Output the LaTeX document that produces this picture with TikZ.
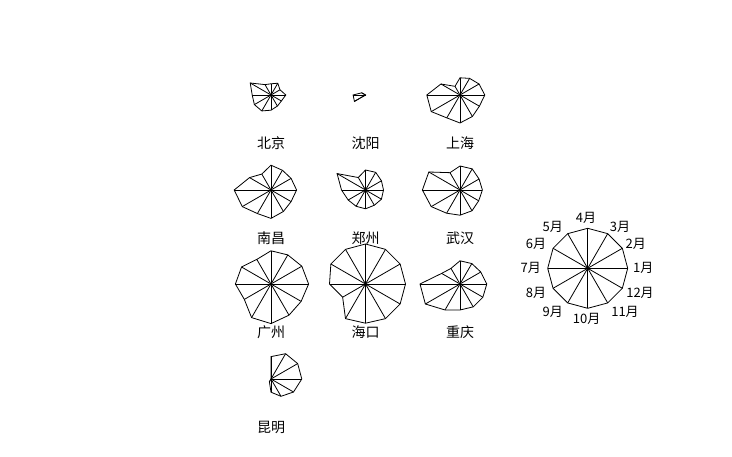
\documentclass[tikz,border=0pt]{standalone}
\usepackage{fontspec}
\newfontfamily\cjk{Noto Sans CJK SC}
\begin{document}
\begin{tikzpicture}[x=1pt,y=1pt,
    ray/.style={line width=0.8pt},
    citylabel/.style={font=\cjk\fontsize{14}{14}\selectfont},
    keylabel/.style={font=\cjk\fontsize{13}{13}\selectfont}]
  \useasboundingbox (0,0) rectangle (732,456);

  % Stars, one per city (12 months, 1 = full radius 40)
  \foreach \id/\cx/\cy/\nm/\vals in {
      bj/271/361/北京/{0.37,0.26,0.34,0.28,0.30,0.60,0.47,0.48,0.46,0.38,0.32,0.30},
      sy/365.5/361/沈阳/{0,0,0,0,0,0.11,0.31,0.32,0,0,0,0},
      sh/460/361/上海/{0.62,0.55,0.48,0.43,0.25,0.55,0.83,0.83,0.66,0.70,0.62,0.56},
      nc/271/266/南昌/{0.64,0.58,0.57,0.62,0.46,0.62,0.92,0.83,0.68,0.71,0.62,0.58},
      zz/365.5/266/郑州/{0.45,0.46,0.51,0.50,0.36,0.82,0.60,0.50,0.47,0.47,0.44,0.46},
      wh/460/266/武汉/{0.56,0.55,0.61,0.60,0.50,0.90,0.94,0.83,0.67,0.63,0.60,0.54},
      gz/271/172/广州/{0.94,0.89,0.84,0.83,0.71,0.85,0.89,0.77,0.97,0.99,0.90,0.87},
      hk/365.5/172/海口/{1,1,1,1,1,1,0.90,0.66,1,0.98,1,1},
      cq/460/172/重庆/{0.67,0.60,0.59,0.58,0.45,0.53,1,1,0.75,0.65,0.66,0.66},
      km/271/77/昆明/{0.77,0.77,0.73,0.56,0,0,0,0,0.08,0.33,0.50,0.65}} {
    \coordinate (\id) at (\cx,\cy);
    \foreach \v [count=\i from 0] in \vals {
      \path (\id) ++(\i*30:{\v*40}) coordinate (p\i);
    }
    \draw[ray] (p0) \foreach \i in {1,...,11} {-- (p\i)} -- cycle;
    \foreach \i in {0,...,11} \draw[ray] (\id) -- (p\i);
    \node[citylabel] (\id-lab) at (\cx,\cy-48) {\nm};
  }

  % Key
  \coordinate (keyc) at (587.7,187.7);
  \foreach \i in {0,...,11} \path (keyc) ++(\i*30:40) coordinate (k\i);
  \draw[ray] (k0) \foreach \i in {1,...,11} {-- (k\i)} -- cycle;
  \foreach \i in {0,...,11} \draw[ray] (keyc) -- (k\i);
  \foreach \m/\lx/\ly in {1/643.3/187.7, 2/635.7/212, 3/620/228.7, 4/586/237.7,
      5/552.7/228.7, 6/536/212, 7/530.7/187.7, 8/536/162.7, 9/552.7/144.3,
      10/586.7/137, 11/625/144.3, 12/640/163.3} {
    \node[keylabel] (m\m) at (\lx,\ly) {\m 月};
  }
\end{tikzpicture}
\end{document}
